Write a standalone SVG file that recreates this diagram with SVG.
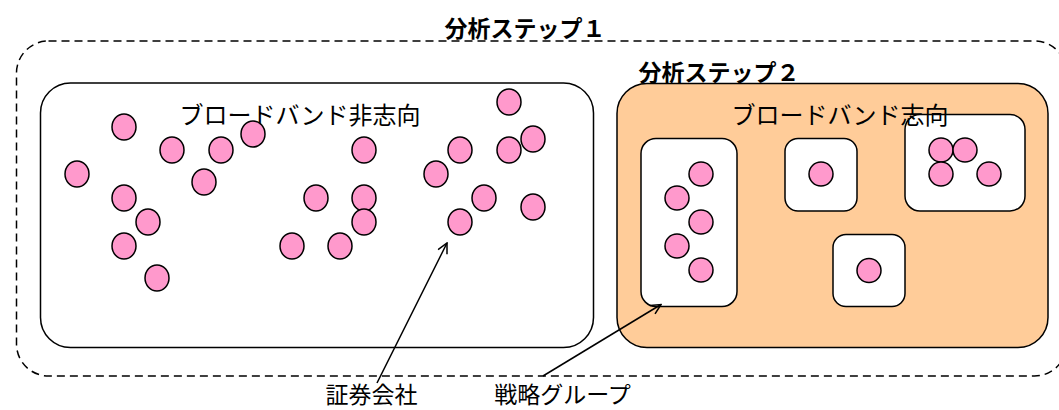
<svg xmlns="http://www.w3.org/2000/svg" width="1059" height="410" viewBox="0 0 1059 410">
<style>
.t{font-family:"Noto Sans CJK JP","Noto Sans",sans-serif;font-size:24px;fill:#000;text-anchor:middle}
.b{font-family:"Noto Sans CJK JP","Noto Sans",sans-serif;font-size:23px;fill:#000;text-anchor:middle}
.h{font-family:"Noto Sans CJK JP","Noto Sans",sans-serif;font-size:23px;font-weight:bold;fill:#000;text-anchor:middle}
.c{fill:#FF99CC;stroke:#000;stroke-width:1.5}
.box{fill:#fff;stroke:#000;stroke-width:1.5}
.ln{stroke:#000;stroke-width:1.5;fill:none}
</style>
<defs>
<marker id="ah" viewBox="0 0 12 12" refX="11" refY="6" markerWidth="12" markerHeight="12" markerUnits="userSpaceOnUse" orient="auto">
<path d="M1,1 L11,6 L1,11" fill="none" stroke="#000" stroke-width="1.5"/>
</marker>
</defs>
<g id="step1">
<rect x="16.5" y="41" width="1050" height="335" rx="32" ry="32" fill="none" stroke="#000" stroke-width="1.5" stroke-dasharray="8 5"/>
<text class="h" x="525" y="37">分析ステップ１</text>
</g>
<g id="non-broadband">
<rect class="box" x="40.5" y="83" width="553" height="264.5" rx="30" ry="30"/>
<text class="t" x="300" y="124">ブロードバンド非志向</text>
<ellipse class="c" cx="124" cy="127" rx="12" ry="13"/>
<ellipse class="c" cx="172" cy="150" rx="12" ry="13"/>
<ellipse class="c" cx="221" cy="150" rx="12" ry="13"/>
<ellipse class="c" cx="253" cy="134" rx="12" ry="13"/>
<ellipse class="c" cx="77" cy="174" rx="12" ry="13"/>
<ellipse class="c" cx="204" cy="182" rx="12" ry="13"/>
<ellipse class="c" cx="124" cy="198" rx="12" ry="13"/>
<ellipse class="c" cx="148" cy="222" rx="12" ry="13"/>
<ellipse class="c" cx="124" cy="246" rx="12" ry="13"/>
<ellipse class="c" cx="157" cy="278" rx="12" ry="13"/>
<ellipse class="c" cx="364" cy="150" rx="12" ry="13"/>
<ellipse class="c" cx="316" cy="198" rx="12" ry="13"/>
<ellipse class="c" cx="364" cy="198" rx="12" ry="13"/>
<ellipse class="c" cx="364" cy="222" rx="12" ry="13"/>
<ellipse class="c" cx="292" cy="246" rx="12" ry="13"/>
<ellipse class="c" cx="340" cy="246" rx="12" ry="13"/>
<ellipse class="c" cx="509" cy="102" rx="12" ry="13"/>
<ellipse class="c" cx="460" cy="150" rx="12" ry="13"/>
<ellipse class="c" cx="509" cy="150" rx="12" ry="13"/>
<ellipse class="c" cx="533" cy="139" rx="12" ry="13"/>
<ellipse class="c" cx="436" cy="174" rx="12" ry="13"/>
<ellipse class="c" cx="484" cy="198" rx="12" ry="13"/>
<ellipse class="c" cx="533" cy="207" rx="12" ry="13"/>
<ellipse class="c" cx="460" cy="222" rx="12" ry="13"/>
</g>
<g id="step2">
<text class="h" x="719" y="81">分析ステップ２</text>
</g>
<g id="broadband">
<rect x="617" y="83.5" width="431" height="264" rx="30" ry="30" fill="#FFCC99" stroke="#000" stroke-width="1.5"/>
</g>
<g id="group-a">
<rect class="box" x="641" y="138.5" width="96" height="168" rx="15" ry="15"/>
<circle class="c" cx="701" cy="174" r="12"/>
<circle class="c" cx="677" cy="198" r="12"/>
<circle class="c" cx="701" cy="222" r="12"/>
<circle class="c" cx="677" cy="246" r="12"/>
<circle class="c" cx="701" cy="270" r="12"/>
</g>
<g id="group-b">
<rect class="box" x="785" y="138.5" width="72" height="72.5" rx="13" ry="13"/>
<circle class="c" cx="821" cy="174" r="12"/>
</g>
<g id="group-c">
<rect class="box" x="905" y="114.5" width="120" height="96.5" rx="15" ry="15"/>
<circle class="c" cx="941" cy="150" r="12"/>
<circle class="c" cx="965" cy="150" r="12"/>
<circle class="c" cx="941" cy="174" r="12"/>
<circle class="c" cx="989" cy="174" r="12"/>
</g>
<g id="group-d">
<rect class="box" x="833" y="234.5" width="72" height="72" rx="13" ry="13"/>
<circle class="c" cx="869" cy="270.5" r="12"/>
</g>
<g id="broadband-label">
<text class="t" x="840" y="124">ブロードバンド志向</text>
</g>
<g id="connectors">
<line class="ln" x1="377" y1="383" x2="447" y2="243" marker-end="url(#ah)"/>
<line class="ln" x1="543" y1="376" x2="661" y2="304.5" marker-end="url(#ah)"/>
</g>
<g id="labels">
<text class="b" x="371.5" y="403">証券会社</text>
<text class="b" x="562.5" y="403">戦略グループ</text>
</g>
</svg>
